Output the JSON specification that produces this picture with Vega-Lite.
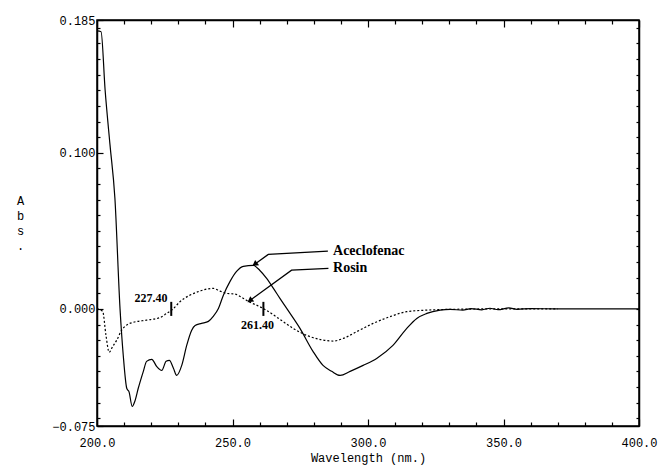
{
 "$schema": "https://vega.github.io/schema/vega-lite/v6.json",
 "width": 542,
 "height": 406,
 "autosize": {"type": "none"},
 "padding": {"left": 97, "top": 20, "right": 23, "bottom": 40},
 "background": "white",
 "config": {
  "view": {"stroke": "black", "strokeWidth": 1.5},
  "axis": {"labelFont": "Liberation Mono", "titleFont": "Liberation Mono", "labelFontSize": 12, "titleFontSize": 12, "titleFontWeight": "normal", "labelColor": "black", "titleColor": "black", "domainColor": "black", "domainWidth": 1.5, "tickColor": "black", "tickWidth": 1.2, "grid": false, "labelFlush": false, "labelOverlap": false}
 },
 "datasets": {
  "acec": [
   {"w":200,"a":0.178},{"w":201.5,"a":0.1775},{"w":203,"a":0.14},{"w":204.8,"a":0.105},{"w":206.6,"a":0.071},{"w":208.5,"a":0.0},{"w":209.7,"a":-0.03},{"w":211.0,"a":-0.051},{"w":211.8,"a":-0.053},{"w":213.0,"a":-0.0625},{"w":214.0,"a":-0.059},{"w":215.2,"a":-0.051},{"w":217.1,"a":-0.04},{"w":218.3,"a":-0.0336},{"w":220.2,"a":-0.0323},{"w":222.0,"a":-0.0368},{"w":223.9,"a":-0.0394},{"w":225.5,"a":-0.0336},{"w":226.7,"a":-0.033},{"w":228.2,"a":-0.038},{"w":229.4,"a":-0.0426},{"w":231.3,"a":-0.036},{"w":233.1,"a":-0.0234},{"w":234.9,"a":-0.0138},{"w":236.2,"a":-0.0106},{"w":238.6,"a":-0.0093},{"w":241.1,"a":-0.008},{"w":242.9,"a":-0.0048},{"w":244.8,"a":0.0003},{"w":246.6,"a":0.0086},{"w":249.1,"a":0.0176},{"w":251.5,"a":0.024},{"w":254.0,"a":0.0272},{"w":257.7,"a":0.0278},{"w":260.1,"a":0.0246},{"w":262.6,"a":0.0195},{"w":265.1,"a":0.0131},{"w":267.5,"a":0.0067},{"w":270.5,"a":-0.001},{"w":274.9,"a":-0.0125},{"w":279.7,"a":-0.0272},{"w":283.4,"a":-0.0362},{"w":286.6,"a":-0.04},{"w":289.7,"a":-0.0426},{"w":293.4,"a":-0.04},{"w":298.2,"a":-0.0362},{"w":303.2,"a":-0.0317},{"w":309.2,"a":-0.0234},{"w":314.3,"a":-0.0125},{"w":318.0,"a":-0.0061},{"w":321.7,"a":-0.0029},{"w":326.6,"a":-0.0008},{"w":330.3,"a":-0.0003},{"w":335,"a":-0.0008},{"w":338,"a":0.0002},{"w":342,"a":-0.0006},{"w":345,"a":0.0004},{"w":348,"a":-0.0005},{"w":352,"a":0.0006},{"w":355,"a":-0.0003},{"w":360,"a":0.0002},{"w":370,"a":0.0},{"w":400,"a":0.0}
  ],
  "rosin": [
   {"w":200,"a":0.0},{"w":202.1,"a":-0.0016},{"w":203.3,"a":-0.0168},{"w":204.5,"a":-0.0278},{"w":205.8,"a":-0.024},{"w":207.3,"a":-0.02},{"w":209.1,"a":-0.0136},{"w":210.9,"a":-0.0104},{"w":213.4,"a":-0.0086},{"w":218.3,"a":-0.0072},{"w":223.2,"a":-0.0056},{"w":225.7,"a":-0.0029},{"w":227.9,"a":-0.0003},{"w":230.6,"a":0.0046},{"w":234.3,"a":0.0088},{"w":238.0,"a":0.0114},{"w":240.5,"a":0.0127},{"w":242.9,"a":0.0131},{"w":245.4,"a":0.0114},{"w":247.9,"a":0.0099},{"w":250.9,"a":0.0095},{"w":254.0,"a":0.0067},{"w":256.5,"a":0.0042},{"w":260.1,"a":0.0014},{"w":262.6,"a":-0.001},{"w":267.5,"a":-0.0067},{"w":272.4,"a":-0.0125},{"w":278.6,"a":-0.0178},{"w":283.5,"a":-0.02},{"w":287.2,"a":-0.0206},{"w":290.9,"a":-0.0189},{"w":295.8,"a":-0.0146},{"w":301.9,"a":-0.0093},{"w":308.1,"a":-0.005},{"w":314.3,"a":-0.0018},{"w":321.7,"a":-0.0008},{"w":330.3,"a":-0.0003},{"w":348.7,"a":0.0},{"w":370,"a":0.0}
  ],
  "marks": [{"w":227.4},{"w":261.4}],
  "arrows": [
   {"arrow":"Aceclofenac","o":1,"w":285.2,"a":0.037},{"arrow":"Aceclofenac","o":2,"w":263.2,"a":0.0349},{"arrow":"Aceclofenac","o":3,"w":257.7,"a":0.028},
   {"arrow":"Rosin","o":1,"w":285.4,"a":0.0259},{"arrow":"Rosin","o":2,"w":271.8,"a":0.0248},{"arrow":"Rosin","o":3,"w":255.8,"a":0.0046}
  ],
  "heads": [{"w":258.5,"a":0.0289},{"w":256.7,"a":0.0057}],
  "names": [{"label":"Aceclofenac","w":287.1,"a":0.0368},{"label":"Rosin","w":287.1,"a":0.0259}],
  "nums": [{"label":"227.40","w":219.9,"a":0.0067},{"label":"261.40","w":259.2,"a":-0.0104}]
 },
 "layer": [
  {
   "data": {"name": "acec"},
   "mark": {"type": "line", "color": "black", "strokeWidth": 1.2, "interpolate": "monotone"},
   "encoding": {
    "x": {"field": "w", "type": "quantitative", "scale": {"domain": [200, 400], "nice": false, "zero": false},
     "axis": {"orient": "bottom", "values": [200,210,220,230,240,250,260,270,280,290,300,310,320,330,340,350,360,370,380,390,400],
      "labelExpr": "datum.value % 50 === 0 ? format(datum.value, '.1f') : ''",
      "tickSize": {"condition": {"test": "datum.value % 50 === 0", "value": -7}, "value": -4},
      "labelPadding": 18, "title": "Wavelength (nm.)", "titlePadding": 1}},
    "y": {"field": "a", "type": "quantitative", "scale": {"domain": [-0.075, 0.185], "nice": false, "zero": false},
     "axis": {"orient": "left", "values": [-0.075,-0.07,-0.06,-0.05,-0.04,-0.03,-0.02,-0.01,0,0.01,0.02,0.03,0.04,0.05,0.06,0.07,0.08,0.09,0.1,0.11,0.12,0.13,0.14,0.15,0.16,0.17,0.18,0.185],
      "labelExpr": "(abs(datum.value + 0.075) < 1e-6 || abs(datum.value) < 1e-6 || abs(datum.value - 0.1) < 1e-6 || abs(datum.value - 0.185) < 1e-6) ? format(datum.value, '.3f') : ''",
      "tickSize": {"condition": {"test": "abs(datum.value + 0.075) < 1e-6 || abs(datum.value) < 1e-6 || abs(datum.value - 0.1) < 1e-6 || abs(datum.value - 0.185) < 1e-6", "value": -6}, "value": -3},
      "labelPadding": 8,
      "title": ["A", "b", "s", "."], "titleAngle": 0, "titleX": -77, "titleY": 175, "titleBaseline": "top", "titleAlign": "center", "titleLineHeight": 15}}
   }
  },
  {
   "data": {"name": "rosin"},
   "mark": {"type": "line", "color": "black", "strokeWidth": 1.2, "strokeDash": [2, 2], "interpolate": "monotone"},
   "encoding": {
    "x": {"field": "w", "type": "quantitative",
     "axis": {"orient": "top", "values": [200,210,220,230,240,250,260,270,280,290,300,310,320,330,340,350,360,370,380,390,400], "labels": false, "title": null,
      "tickSize": {"condition": {"test": "datum.value % 50 === 0", "value": -7}, "value": -4}}},
    "y": {"field": "a", "type": "quantitative",
     "axis": {"orient": "right", "values": [-0.07,-0.06,-0.05,-0.04,-0.03,-0.02,-0.01,0,0.01,0.02,0.03,0.04,0.05,0.06,0.07,0.08,0.09,0.1,0.11,0.12,0.13,0.14,0.15,0.16,0.17,0.18], "labels": false, "title": null, "tickSize": -3}}
   }
  },
  {
   "mark": {"type": "rule", "color": "black", "strokeWidth": 1.5},
   "encoding": {"y": {"datum": 0, "type": "quantitative", "axis": null}}
  },
  {
   "data": {"name": "marks"},
   "mark": {"type": "rule", "color": "black", "strokeWidth": 2},
   "encoding": {"x": {"field": "w", "type": "quantitative", "axis": null}, "y": {"datum": 0.0045, "type": "quantitative", "axis": null}, "y2": {"datum": -0.0045}}
  },
  {
   "data": {"name": "arrows"},
   "mark": {"type": "line", "color": "black", "strokeWidth": 1.3},
   "encoding": {"x": {"field": "w", "type": "quantitative", "axis": null}, "y": {"field": "a", "type": "quantitative", "axis": null}, "detail": {"field": "arrow"}, "order": {"field": "o"}}
  },
  {
   "data": {"name": "heads"},
   "mark": {"type": "point", "shape": "triangle", "filled": true, "color": "black", "opacity": 1, "size": 45, "angle": 234},
   "encoding": {"x": {"field": "w", "type": "quantitative", "axis": null}, "y": {"field": "a", "type": "quantitative", "axis": null}}
  },
  {
   "data": {"name": "names"},
   "mark": {"type": "text", "font": "Liberation Serif", "fontWeight": "bold", "fontSize": 14, "align": "left", "baseline": "middle", "color": "black"},
   "encoding": {"x": {"field": "w", "type": "quantitative", "axis": null}, "y": {"field": "a", "type": "quantitative", "axis": null}, "text": {"field": "label"}}
  },
  {
   "data": {"name": "nums"},
   "mark": {"type": "text", "font": "Liberation Serif", "fontWeight": "bold", "fontSize": 12, "align": "center", "baseline": "middle", "color": "black"},
   "encoding": {"x": {"field": "w", "type": "quantitative", "axis": null}, "y": {"field": "a", "type": "quantitative", "axis": null}, "text": {"field": "label"}}
  }
 ],
 "resolve": {"axis": {"x": "independent", "y": "independent"}}
}
